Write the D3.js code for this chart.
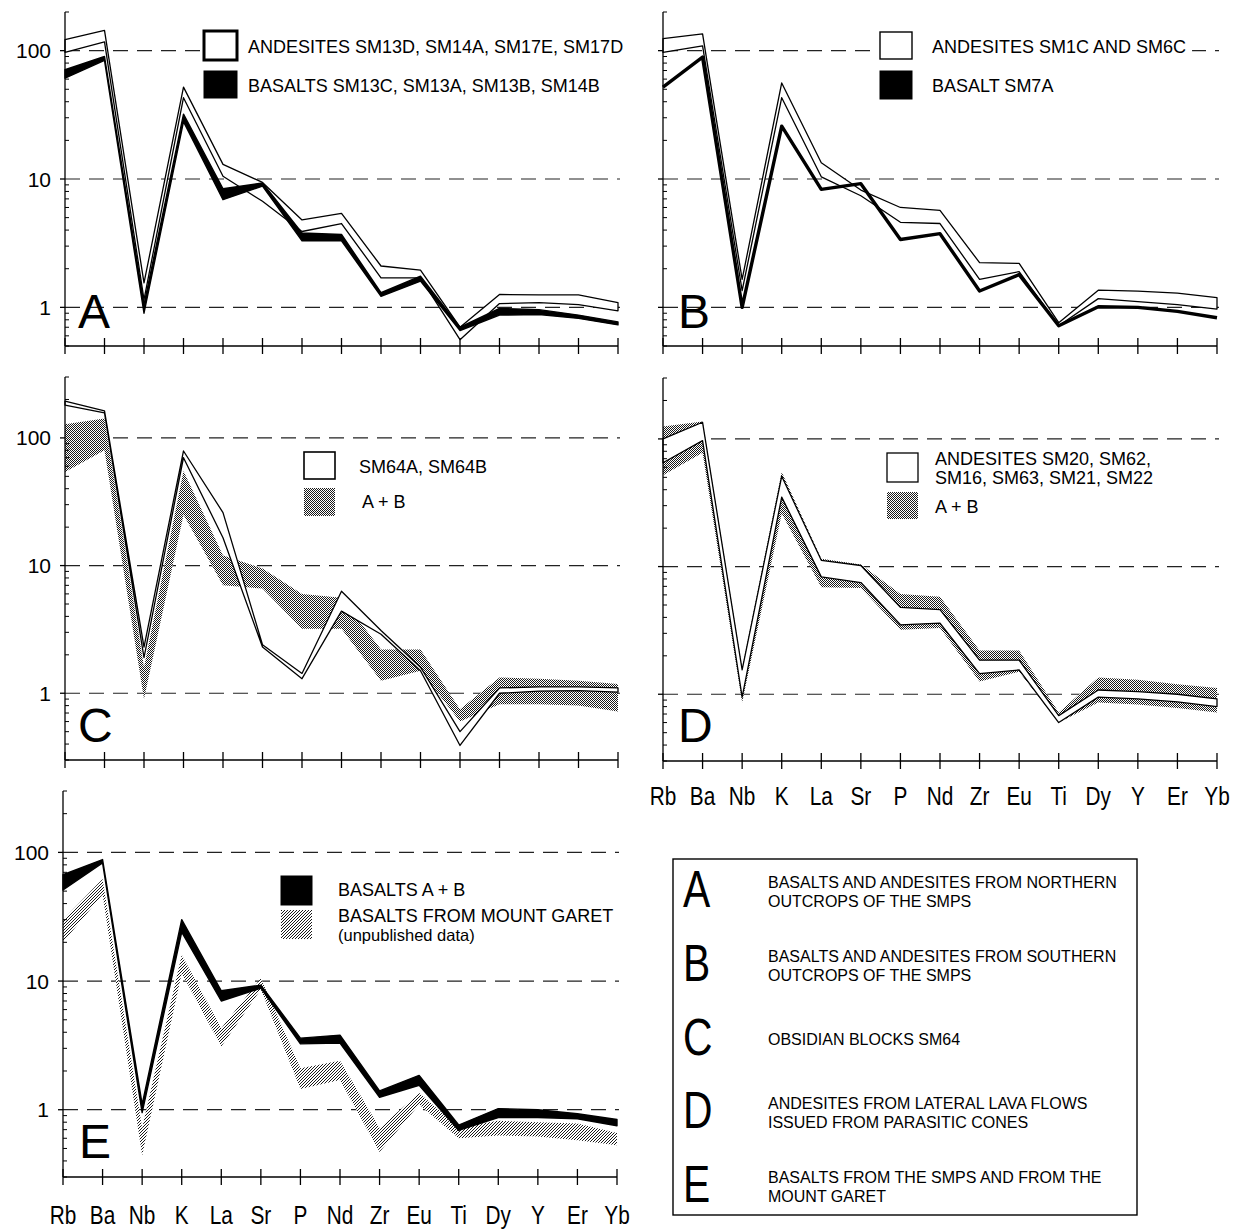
<!DOCTYPE html>
<html>
<head>
<meta charset="utf-8">
<script src="https://cdn.jsdelivr.net/npm/d3@7"></script>
<style>
  html, body { margin: 0; padding: 0; background: #fff; }
  svg { display: block; font-family: "Liberation Sans", Arial, Helvetica, sans-serif; }
</style>
</head>
<body>
<svg id="fig" width="1234" height="1229"></svg>
<script>
// Primitive-mantle normalised trace element patterns (spidergrams)
const elements = ["Rb", "Ba", "Nb", "K", "La", "Sr", "P", "Nd", "Zr", "Eu", "Ti", "Dy", "Y", "Er", "Yb"];

// A — northern outcrops
const aAndesitesLow  = [97, 117, 1.15, 43, 10.5, 6.7, 3.9, 4.5, 1.7, 1.7, 0.56, 1.07, 1.09, 1.05, 0.94];
const aAndesitesHigh = [122, 144, 1.55, 52, 13, 9.4, 4.8, 5.4, 2.1, 1.95, 0.70, 1.26, 1.25, 1.25, 1.09];
const aBasaltsLow    = [61, 84, 0.9, 28, 6.9, 8.8, 3.3, 3.3, 1.22, 1.6, 0.66, 0.87, 0.88, 0.82, 0.73];
const aBasaltsHigh   = [71, 90, 1.05, 32, 8.4, 9.3, 3.8, 3.7, 1.3, 1.75, 0.70, 0.98, 0.96, 0.87, 0.77];

// B — southern outcrops
const bAndesitesLow  = [97, 109, 1.35, 43, 10.4, 7.4, 4.6, 4.5, 1.65, 1.9, 0.72, 1.17, 1.11, 1.05, 0.97];
const bAndesitesHigh = [124, 135, 1.65, 56, 13.4, 8.2, 6.0, 5.7, 2.23, 2.2, 0.76, 1.36, 1.34, 1.29, 1.19];
const bBasaltSM7A    = [52, 89, 1.0, 25.8, 8.3, 9.2, 3.38, 3.75, 1.34, 1.8, 0.72, 1.01, 1.0, 0.93, 0.83];

// C — obsidian blocks SM64 against the A + B field
const cSM64Low  = [181, 157, 1.9, 70, 16.5, 2.3, 1.3, 4.4, 2.9, 1.5, 0.39, 1.0, 1.04, 1.05, 1.02];
const cSM64High = [194, 163, 2.3, 79, 26, 2.4, 1.43, 6.3, 3.1, 1.6, 0.5, 1.1, 1.12, 1.12, 1.1];
const cABLow    = [54, 80, 0.9, 25, 7.0, 6.6, 3.2, 3.2, 1.25, 1.5, 0.6, 0.82, 0.82, 0.8, 0.72];
const cABHigh   = [128, 142, 1.6, 55, 12, 9.5, 6.0, 5.6, 2.2, 2.2, 0.75, 1.33, 1.3, 1.25, 1.18];

// D — lateral lava flows against the A + B field
const dAndesitesLow  = [65, 97, 0.95, 35, 8.3, 7.5, 3.5, 3.6, 1.45, 1.55, 0.6, 0.95, 0.92, 0.87, 0.8];
const dAndesitesHigh = [100, 135, 1.55, 51, 11.2, 10.2, 4.8, 4.6, 1.85, 1.85, 0.68, 1.08, 1.05, 1.0, 0.92];
const dABLow         = [52, 78, 0.86, 26, 6.9, 6.8, 3.2, 3.3, 1.26, 1.5, 0.6, 0.86, 0.83, 0.78, 0.72];
const dABHigh        = [125, 137, 1.6, 55, 11.5, 10.4, 6.1, 5.8, 2.2, 2.2, 0.72, 1.35, 1.3, 1.2, 1.12];

// E — basalts of the SMPS and of Mount Garet
const eBasaltsLow  = [51, 83, 0.95, 24, 7.0, 8.8, 3.25, 3.3, 1.25, 1.55, 0.69, 0.87, 0.87, 0.85, 0.75];
const eBasaltsHigh = [67, 88, 1.1, 30, 8.4, 9.3, 3.6, 3.8, 1.4, 1.85, 0.76, 1.02, 1.0, 0.93, 0.84];
const eGaretLow    = [20, 47, 0.44, 11.5, 3.1, 8.6, 1.45, 1.7, 0.47, 1.1, 0.6, 0.63, 0.62, 0.58, 0.53];
const eGaretHigh   = [30, 62, 0.72, 16, 4.3, 10.5, 2.1, 2.4, 0.72, 1.35, 0.73, 0.82, 0.8, 0.78, 0.66];

// Key texts
const keyLetters = ["A", "B", "C", "D", "E"];
const keyTexts = [
  ["BASALTS AND ANDESITES FROM NORTHERN", "OUTCROPS OF THE SMPS"],
  ["BASALTS AND ANDESITES FROM SOUTHERN", "OUTCROPS OF THE SMPS"],
  ["OBSIDIAN BLOCKS SM64"],
  ["ANDESITES FROM LATERAL LAVA FLOWS", "ISSUED FROM PARASITIC CONES"],
  ["BASALTS FROM THE SMPS AND FROM THE", "MOUNT GARET"]
];

const svg = d3.select("#fig");
const defs = svg.append("defs");

// Halftone screens for the shaded fields
function halftone(id, cells, size) {
  const p = defs.append("pattern").attr("id", id)
    .attr("patternUnits", "userSpaceOnUse").attr("width", size).attr("height", size);
  p.append("rect").attr("width", size).attr("height", size).attr("fill", "#fff");
  cells.forEach(([cx, cy]) => p.append("rect").attr("x", cx).attr("y", cy)
    .attr("width", 1).attr("height", 1).attr("fill", "#1a1a1a"));
}
halftone("screenDark", [[0, 0], [1, 1]], 2);
halftone("screenLight", [[0, 0], [2, 1], [1, 2]], 3);

const fills = { white: "#fff", black: "#000", gray: "url(#screenDark)", grayLight: "url(#screenLight)" };

const panels = [
  {
    letter: "A", x0: 65, x1: 618, yTop: 12, yBot: 346, domain: [0.5, 200], yLabels: true,
    letterPos: [78, 328],
    bands: [
      { low: aAndesitesLow, high: aAndesitesHigh, kind: "white" },
      { low: aBasaltsLow, high: aBasaltsHigh, kind: "black" }
    ],
    legend: [
      { kind: "white", box: [204, 31, 33, 29], sw: 3, lines: [["ANDESITES SM13D, SM14A, SM17E, SM17D", 248, 53, 18]] },
      { kind: "black", box: [204, 71, 33, 27], sw: 1, lines: [["BASALTS SM13C, SM13A, SM13B, SM14B", 248, 92, 18]] }
    ]
  },
  {
    letter: "B", x0: 663, x1: 1217, yTop: 12, yBot: 346, domain: [0.5, 200], yLabels: false,
    letterPos: [678, 328],
    bands: [
      { low: bAndesitesLow, high: bAndesitesHigh, kind: "white" },
      { line: bBasaltSM7A }
    ],
    legend: [
      { kind: "white", box: [880, 32, 32, 27], sw: 1.4, lines: [["ANDESITES SM1C AND SM6C", 932, 53, 18]] },
      { kind: "black", box: [880, 71, 32, 28], sw: 1, lines: [["BASALT SM7A", 932, 92, 18]] }
    ]
  },
  {
    letter: "C", x0: 65, x1: 618, yTop: 377, yBot: 760, domain: [0.3, 300], yLabels: true,
    letterPos: [78, 742],
    bands: [
      { low: cABLow, high: cABHigh, kind: "gray" },
      { low: cSM64Low, high: cSM64High, kind: "white" }
    ],
    legend: [
      { kind: "white", box: [304, 452, 31, 27], sw: 1.6, lines: [["SM64A, SM64B", 359, 473, 18]] },
      { kind: "gray", box: [304, 488, 31, 28], sw: 0, lines: [["A + B", 362, 508, 18]] }
    ]
  },
  {
    letter: "D", x0: 663, x1: 1217, yTop: 378, yBot: 761, domain: [0.3, 300], yLabels: false,
    letterPos: [678, 742],
    bands: [
      { low: dABLow, high: dABHigh, kind: "gray" },
      { low: dAndesitesLow, high: dAndesitesHigh, kind: "white" }
    ],
    legend: [
      { kind: "white", box: [887, 453, 31, 29], sw: 1.3, lines: [["ANDESITES SM20, SM62,", 935, 465, 18], ["SM16, SM63, SM21, SM22", 935, 484, 18]] },
      { kind: "gray", box: [887, 492, 31, 27], sw: 0, lines: [["A + B", 935, 513, 18]] }
    ]
  },
  {
    letter: "E", x0: 63, x1: 617, yTop: 791, yBot: 1177, domain: [0.3, 300], yLabels: true,
    letterPos: [79, 1158],
    bands: [
      { low: eGaretLow, high: eGaretHigh, kind: "grayLight" },
      { low: eBasaltsLow, high: eBasaltsHigh, kind: "black" }
    ],
    legend: [
      { kind: "black", box: [281, 876, 31, 29], sw: 1, lines: [["BASALTS A + B", 338, 896, 18]] },
      { kind: "grayLight", box: [281, 910, 31, 29], sw: 0, lines: [["BASALTS FROM MOUNT GARET", 338, 922, 18], ["(unpublished data)", 338, 941, 16.5]] }
    ]
  }
];

function drawPanel(p) {
  const g = svg.append("g");
  const x = d3.scalePoint().domain(elements).range([p.x0, p.x1]);
  const y = d3.scaleLog().domain(p.domain).range([p.yBot, p.yTop]);
  const ticks = y.ticks();
  const isMajor = v => Math.abs(Math.log10(v) - Math.round(Math.log10(v))) < 1e-9;
  const majors = ticks.filter(isMajor);
  const minors = ticks.filter(v => !isMajor(v));

  // dashed reference lines at 1, 10, 100
  g.append("g").selectAll("line").data(majors).join("line")
    .attr("x1", p.x0).attr("x2", p.x1 + 2)
    .attr("y1", d => y(d)).attr("y2", d => y(d))
    .attr("stroke", "#222").attr("stroke-width", 1.2).attr("stroke-dasharray", "15,9");

  // compositional fields
  p.bands.forEach(b => {
    if (b.line) {
      const line = d3.line().x((d, i) => x(elements[i])).y(d => y(d));
      g.append("path").attr("d", line(b.line)).attr("fill", "none")
        .attr("stroke", "#000").attr("stroke-width", 3.4).attr("stroke-linejoin", "round");
      return;
    }
    const area = d3.area()
      .x((d, i) => x(elements[i]))
      .y0((d, i) => y(b.low[i]))
      .y1((d, i) => y(b.high[i]));
    const path = g.append("path").attr("d", area(b.low)).attr("fill", fills[b.kind]);
    if (b.kind === "white") path.attr("stroke", "#000").attr("stroke-width", 1.3).attr("stroke-linejoin", "round");
    if (b.kind === "black") path.attr("stroke", "#000").attr("stroke-width", 1.4).attr("stroke-linejoin", "round");
  });

  // axes
  const ax = g.append("g").attr("stroke", "#000").attr("stroke-width", 1.3);
  ax.append("line").attr("x1", p.x0).attr("x2", p.x0).attr("y1", p.yTop).attr("y2", p.yBot);
  ax.append("line").attr("x1", p.x0).attr("x2", p.x1).attr("y1", p.yBot).attr("y2", p.yBot);
  ax.selectAll(".maj").data(majors).join("line").attr("class", "maj")
    .attr("x1", p.x0 - 5).attr("x2", p.x0).attr("y1", d => y(d)).attr("y2", d => y(d));
  ax.selectAll(".min").data(minors).join("line").attr("class", "min")
    .attr("x1", p.x0).attr("x2", p.x0 + 4).attr("y1", d => y(d)).attr("y2", d => y(d)).attr("stroke-width", 1);
  ax.selectAll(".xt").data(elements).join("line").attr("class", "xt")
    .attr("x1", d => x(d)).attr("x2", d => x(d)).attr("y1", p.yBot - 8).attr("y2", p.yBot + 8);

  if (p.yLabels) {
    g.append("g").selectAll("text").data(majors).join("text")
      .attr("x", p.x0 - 14).attr("y", d => y(d)).attr("dy", "0.36em")
      .attr("text-anchor", "end").attr("font-size", 21).text(d => d3.format("d")(d));
  }

  g.append("text").attr("x", p.letterPos[0]).attr("y", p.letterPos[1])
    .attr("font-size", 48).text(p.letter);

  // legend
  const lg = g.append("g");
  const content = lg.append("g");
  p.legend.forEach(it => {
    const [bx, by, bw, bh] = it.box;
    content.append("rect").attr("x", bx).attr("y", by).attr("width", bw).attr("height", bh)
      .attr("fill", fills[it.kind])
      .attr("stroke", it.sw ? "#000" : "none").attr("stroke-width", it.sw || 0);
    it.lines.forEach(([t, tx, ty, fs]) => content.append("text").attr("x", tx).attr("y", ty)
      .attr("font-size", fs).text(t));
  });
  const bb = content.node().getBBox();
  lg.insert("rect", ":first-child").attr("x", bb.x - 4).attr("y", bb.y - 1)
    .attr("width", bb.width + 10).attr("height", bb.height + 2).attr("fill", "#fff");

  return { x, y };
}

const scales = panels.map(drawPanel);

// element names below the lowest panel of each column (tall, condensed lettering)
function elementLabels(s, baseline) {
  svg.append("g").selectAll("text").data(elements).join("text")
    .attr("transform", d => `translate(${s.x(d)},${baseline}) scale(0.8,1)`)
    .attr("text-anchor", "middle")
    .attr("font-size", 26).text(d => d);
}
elementLabels(scales[3], 805);
elementLabels(scales[4], 1224);

// key box
const key = svg.append("g");
key.append("rect").attr("x", 673).attr("y", 859).attr("width", 464).attr("height", 356)
  .attr("fill", "#fff").attr("stroke", "#000").attr("stroke-width", 1.4);
const keyY = d3.scalePoint().domain(keyLetters).range([907, 1202]);
const keyRows = key.selectAll("g.row").data(keyLetters).join("g").attr("class", "row");
keyRows.append("text")
  .attr("transform", d => `translate(683,${keyY(d)}) scale(0.8,1)`)
  .attr("font-size", 51).text(d => d);
keyRows.each(function (d, i) {
  const lines = keyTexts[i];
  const base = keyY(d);
  lines.forEach((t, j) => {
    const yy = lines.length === 2 ? base - 19 + j * 19 : base - 10;
    d3.select(this).append("text").attr("x", 768).attr("y", yy).attr("font-size", 16).text(t);
  });
});
</script>
</body>
</html>
